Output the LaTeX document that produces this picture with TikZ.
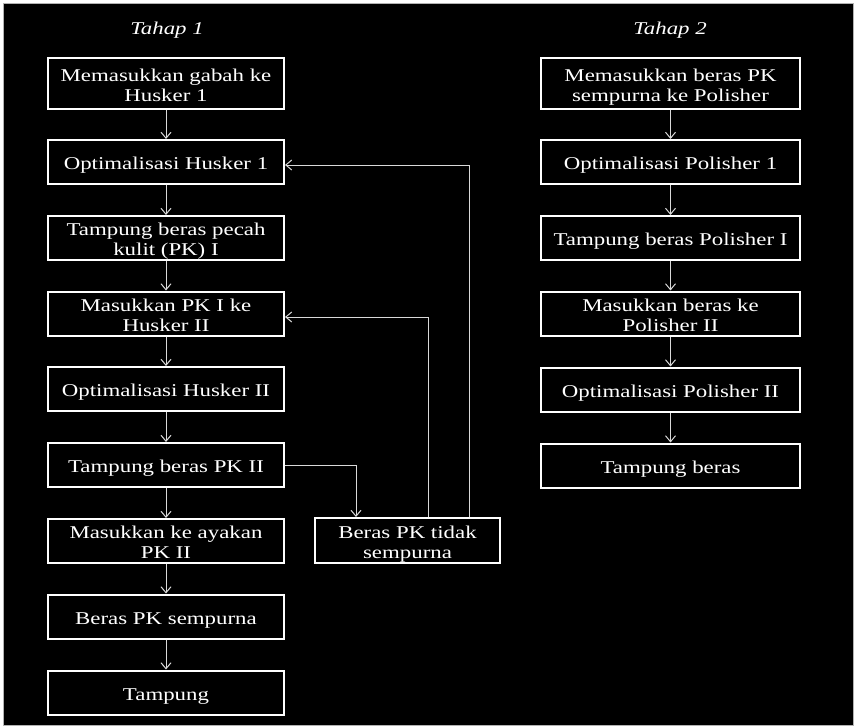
\documentclass[tikz,border=0pt]{standalone}
\usepackage{fontspec}
\setmainfont{Liberation Serif}[FakeStretch=1.27]
\usetikzlibrary{arrows.meta}
\newcommand\mytop{\rule{0pt}{19pt}}
\newcommand\mybot{\rule[-4pt]{0pt}{4pt}}
\begin{document}
\begin{tikzpicture}[x=1pt,y=-1pt,
  box/.style={draw=white,line width=2pt,fill=black,text=white,align=center,
    font=\fontsize{18}{20}\selectfont,inner sep=0pt,minimum height=44pt},
  lbox/.style={box,minimum width=236pt},
  rbox/.style={box,minimum width=259pt},
  conn/.style={draw=white!85!black,line width=1pt,-{Straight Barb[length=6pt,width=10pt,line width=1pt]}},
  ttl/.style={text=white,font=\fontsize{18}{21}\selectfont\itshape}]
\useasboundingbox (0,0) rectangle (857,728);
\fill[white] (0,0) rectangle (857,728);
\filldraw[fill=black,draw=white!70!black,line width=1pt] (3,3) rectangle (853,725);

\node[ttl] (t1) at (167,30) {Tahap 1};
\node[ttl] (t2) at (670,30) {Tahap 2};

\node[lbox,minimum height=51pt] (b1) at (166,83.5) {\mytop Memasukkan gabah ke\\Husker 1\mybot};
\node[lbox] (b2) at (166,162) {\mytop Optimalisasi Husker 1\mybot};
\node[lbox] (b3) at (166,238) {\mytop Tampung beras pecah\\kulit (PK) I\mybot};
\node[lbox] (b4) at (166,313.5) {\mytop Masukkan PK I ke\\Husker II\mybot};
\node[lbox] (b5) at (166,389) {\mytop Optimalisasi Husker II\mybot};
\node[lbox] (b6) at (166,465) {\mytop Tampung beras PK II\mybot};
\node[lbox] (b7) at (166,541) {\mytop Masukkan ke ayakan\\PK II\mybot};
\node[lbox] (b8) at (166,616.5) {\mytop Beras PK sempurna\mybot};
\node[lbox] (b9) at (166,692.5) {\mytop Tampung\mybot};

\node[box,minimum width=185pt,minimum height=45pt] (s) at (407.5,540.5) {\mytop Beras PK tidak\\sempurna\mybot};

\node[rbox,minimum height=51pt] (r1) at (670.5,83.5) {\mytop Memasukkan beras PK\\sempurna ke Polisher\mybot};
\node[rbox] (r2) at (670.5,162) {\mytop Optimalisasi Polisher 1\mybot};
\node[rbox] (r3) at (670.5,238) {\mytop Tampung beras Polisher I\mybot};
\node[rbox] (r4) at (670.5,313.5) {\mytop Masukkan beras ke\\Polisher II\mybot};
\node[rbox] (r5) at (670.5,389.5) {\mytop Optimalisasi Polisher II\mybot};
\node[rbox] (r6) at (670.5,465.5) {\mytop Tampung beras\mybot};

\foreach \a/\b in {b1/b2,b2/b3,b3/b4,b4/b5,b5/b6,b6/b7,b7/b8,b8/b9,r1/r2,r2/r3,r3/r4,r4/r5,r5/r6}
  \draw[conn] (\a.south) -- (\b.north);

\draw[conn] (b6.east) -| ([xshift=-51.5pt]s.north);
\draw[conn] ([xshift=20.5pt]s.north) |- ([yshift=-3.5pt]b4.east);
\draw[conn] ([xshift=61.5pt]s.north) |- ([yshift=-3pt]b2.east);
\end{tikzpicture}
\end{document}
